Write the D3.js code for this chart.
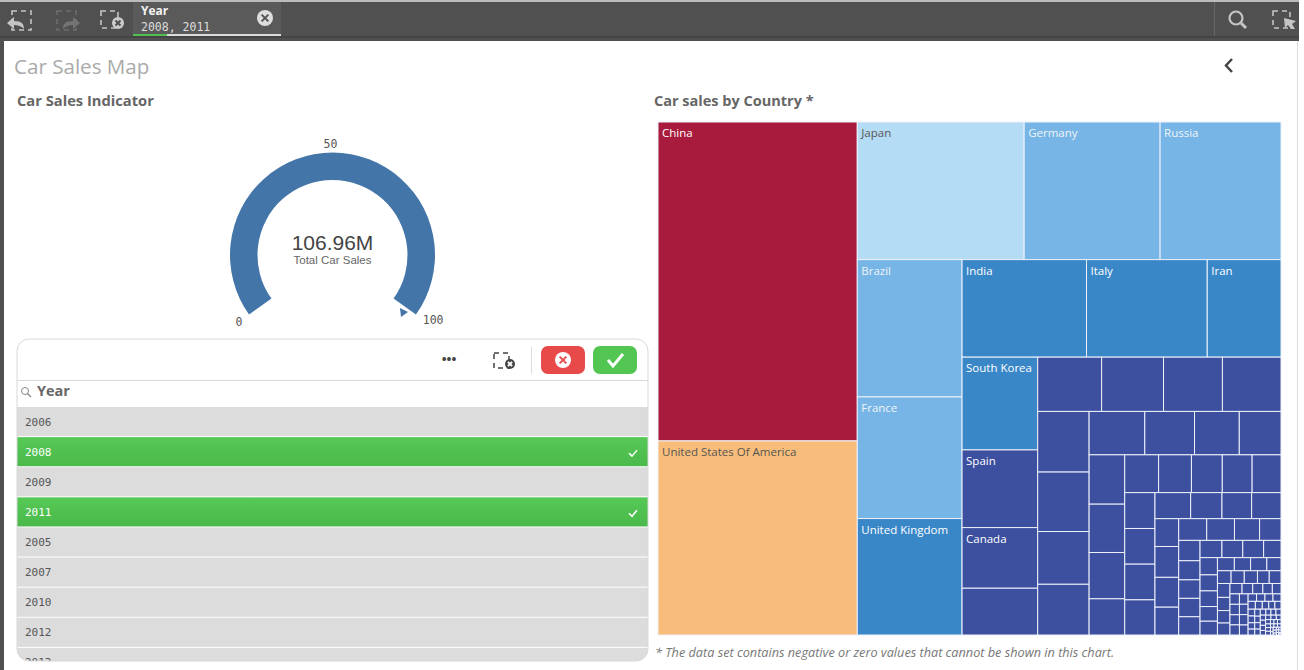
<!DOCTYPE html>
<html>
<head>
<meta charset="utf-8">
<script src="https://cdn.jsdelivr.net/npm/d3@7"></script>
<style>
  html, body { margin: 0; padding: 0; background: #fff; overflow: hidden; }
  text { font-family: "Open Sans", sans-serif; }
  .mono { font-family: "DejaVu Sans Mono", monospace; }
  .kpi { font-family: "Liberation Sans", sans-serif; }
</style>
</head>
<body>
<div id="chart"></div>
<script>
// gauge numbers
const gaugeValue = 106.96;
const gaugeLabel = "106.96M";
const gaugeTicks = [0, 50, 100];

// list box
const listYears = ["2006", "2008", "2009", "2011", "2005", "2007", "2010", "2012", "2013"];
const selectedYears = ["2008", "2011"];

// treemap, named countries first, the rest have no label in the picture
const countryNames = ["China", "United States Of America", "Japan", "Germany", "Russia", "Brazil", "France",
    "United Kingdom", "India", "Italy", "Iran", "South Korea", "Spain", "Canada"];
const countrySales = [21.2, 12.9, 7.66, 6.24, 5.55, 4.8, 4.25, 4.07, 4.05, 3.93, 2.4, 2.34, 1.96, 1.53,
    1.18, 1.157, 1.12, 1.066, 1.06, 1.04, 1.02, 0.905, 0.87, 0.806, 0.72, 0.648, 0.604,
    0.586, 0.574, 0.55, 0.43, 0.427, 0.414, 0.389, 0.376, 0.364, 0.362, 0.36, 0.36, 0.355,
    0.31, 0.272, 0.258, 0.255, 0.22, 0.244, 0.236, 0.22, 0.203, 0.201, 0.182, 0.155,
    0.145, 0.136, 0.132, 0.131, 0.13, 0.126, 0.12, 0.12, 0.1, 0.1, 0.093, 0.091, 0.085, 0.08,
    0.074, 0.071, 0.071, 0.062, 0.058, 0.056, 0.056, 0.05, 0.05, 0.058, 0.055, 0.052, 0.05,
    0.042, 0.037, 0.035, 0.033, 0.03, 0.033, 0.033, 0.032, 0.032, 0.03, 0.03, 0.03, 0.029,
    0.021, 0.021, 0.02, 0.02, 0.019, 0.018, 0.017, 0.016, 0.016, 0.015, 0.015, 0.014,
    0.013, 0.013, 0.012, 0.012, 0.011, 0.011, 0.01, 0.01, 0.01, 0.009, 0.009, 0.009, 0.008, 0.008, 0.008,
    0.007, 0.007, 0.006, 0.006, 0.006, 0.005, 0.005, 0.005, 0.004, 0.004, 0.004, 0.004,
    0.003, 0.003, 0.003, 0.002, 0.002, 0.002, 0.002, 0.002, 0.002, 0.001, 0.001];

const colorBreaks = [2.2, 4.15, 7, 10, 18];
const colorRange = ["#3c509f", "#3a87c8", "#76b5e6", "#b5dcf5", "#f8bd7a", "#a91b3d"];
const labelRange = ["#fff", "#fff", "#f0f4f8", "#555", "#555", "#fff"];

const width = 1304, height = 670;
const svg = d3.select("#chart").append("svg").attr("width", width).attr("height", height).style("display", "block");

// ---------- frame + toolbar ----------
const frameColor = "#505050";
svg.append("rect").attr("width", 1299).attr("height", 41).attr("fill", frameColor);
svg.append("rect").attr("width", 1299).attr("height", 2).attr("fill", "#bbb");
svg.append("rect").attr("y", 36).attr("width", 1299).attr("height", 2).attr("fill", "#444");
svg.append("rect").attr("y", 41).attr("width", 4).attr("height", height - 41).attr("fill", frameColor);
svg.append("rect").attr("x", 1297).attr("y", 41).attr("width", 1).attr("height", height - 41).attr("fill", "#ddd");

const tb = svg.append("g");

const dashedBox = (g, x, y, s, color) => g.append("rect").attr("x", x).attr("y", y).attr("width", s).attr("height", s)
    .attr("fill", "none").attr("stroke", color).attr("stroke-width", 1.6).attr("stroke-dasharray", "5 4");

// back / forward / clear
dashedBox(tb, 12, 11, 19, "#c4c4c4");
tb.append("path").attr("d", "M7 23 L14 17 L14 21 C22 21 24 24 24 29 C21 26 18 25 14 25 L14 29 Z").attr("fill", "#c4c4c4");
dashedBox(tb, 57, 11, 19, "#6e6e6e");
tb.append("path").attr("d", "M80 23 L73 17 L73 21 C65 21 63 24 63 29 C66 26 69 25 73 25 L73 29 Z").attr("fill", "#747474");
dashedBox(tb, 101, 11, 17, "#c4c4c4");
const clearMark = (g, x, y, r, bg, fg) => {
    g.append("circle").attr("cx", x).attr("cy", y).attr("r", r).attr("fill", bg);
    g.append("path").attr("d", `M${x - r * 0.42} ${y - r * 0.42} L${x + r * 0.42} ${y + r * 0.42} M${x + r * 0.42} ${y - r * 0.42} L${x - r * 0.42} ${y + r * 0.42}`)
        .attr("stroke", fg).attr("stroke-width", 2).attr("fill", "none");
};
clearMark(tb, 118, 23, 6, "#ccc", frameColor);

// selection tab
tb.append("rect").attr("x", 133).attr("y", 2).attr("width", 148).attr("height", 34).attr("fill", "#5a5a5a");
tb.append("text").attr("x", 141).attr("y", 15).attr("fill", "#f2f2f2").attr("font-size", 12).attr("font-weight", 700).text("Year");
tb.append("text").attr("class", "mono").attr("x", 141).attr("y", 31).attr("fill", "#ddd").attr("font-size", 11.5).text(selectedYears.join(", "));
tb.append("rect").attr("x", 133).attr("y", 34).attr("width", 148).attr("height", 2).attr("fill", "#ddd");
tb.append("rect").attr("x", 133).attr("y", 34).attr("width", 34).attr("height", 2).attr("fill", "#4fbf4f");
clearMark(tb, 265, 18, 8, "#ddd", "#555");

// search + lasso
tb.append("rect").attr("x", 1214).attr("y", 2).attr("width", 1).attr("height", 34).attr("fill", "#666");
tb.append("circle").attr("cx", 1236).attr("cy", 18).attr("r", 6.5).attr("fill", "none").attr("stroke", "#c4c4c4").attr("stroke-width", 2.2);
tb.append("path").attr("d", "M1241 23 L1246 28").attr("stroke", "#c4c4c4").attr("stroke-width", 3);
dashedBox(tb, 1273, 11, 17, "#c4c4c4");
tb.append("path").attr("d", "M1284 18 L1296 21 L1292 24 L1295 29 L1291 29 L1288 25 L1285 28 Z").attr("fill", "#c4c4c4");

// ---------- titles ----------
svg.append("text").attr("x", 14).attr("y", 74).attr("fill", "#aaa").attr("font-size", 20.6).text("Car Sales Map");
svg.append("text").attr("x", 17).attr("y", 106).attr("fill", "#666").attr("font-size", 14.7).attr("font-weight", 700).text("Car Sales Indicator");
svg.append("text").attr("x", 654).attr("y", 106).attr("fill", "#666").attr("font-size", 14.5).attr("font-weight", 700).text("Car sales by Country *");
svg.append("path").attr("d", "M1232 59 L1226 65.5 L1232 72").attr("fill", "none").attr("stroke", "#444").attr("stroke-width", 2.5);
svg.append("text").attr("x", 655).attr("y", 657).attr("fill", "#777").attr("font-size", 12.7).attr("font-style", "italic")
    .text("* The data set contains negative or zero values that cannot be shown in this chart.");

// ---------- gauge ----------
const gaugeG = svg.append("g").attr("transform", "translate(332.5,255)");
const angle = d3.scaleLinear().domain([0, 100]).range([-125.5, 125.5].map(d => d * Math.PI / 180)).clamp(true);
const arc = d3.arc().innerRadius(75).outerRadius(102.5);
gaugeG.append("path").attr("fill", "#4375a9")
    .attr("d", arc({ startAngle: angle(0), endAngle: angle(gaugeValue) }));

// tick labels sit just outside the ring
gaugeG.selectAll("text.tick").data(gaugeTicks).join("text").attr("class", "tick mono")
    .attr("x", d => Math.sin(angle(d)) * 115 + (d === 100 ? 7 : d === 0 ? 0 : -2))
    .attr("y", d => -Math.cos(angle(d)) * 115 + (d === 50 ? 8 : d === 0 ? 4 : 2))
    .attr("text-anchor", "middle").attr("fill", "#555").attr("font-size", 11.5).text(d => d);

// little out-of-range marker next to the end of the arc
const tip = angle(100);
const tipR = 92;
gaugeG.append("path").attr("fill", "#4375a9").attr("d", "M-3 -4 L5 0 L-2 5 Z")
    .attr("transform", `translate(${Math.sin(tip) * tipR - 4.4},${-Math.cos(tip) * tipR + 3.6})`);

gaugeG.append("text").attr("class", "kpi").attr("y", -5.5).attr("text-anchor", "middle").attr("fill", "#444").attr("font-size", 21).text(gaugeLabel);
gaugeG.append("text").attr("class", "kpi").attr("y", 9).attr("text-anchor", "middle").attr("fill", "#666").attr("font-size", 11.5).text("Total Car Sales");

// ---------- list box ----------
const defs = svg.append("defs");
defs.append("clipPath").attr("id", "listClip").append("rect")
    .attr("x", 17).attr("y", 339).attr("width", 631).attr("height", 322).attr("rx", 12);
const grad = defs.append("linearGradient").attr("id", "sel").attr("x1", 0).attr("x2", 0).attr("y1", 0).attr("y2", 1);
grad.append("stop").attr("offset", "0%").attr("stop-color", "#56c956");
grad.append("stop").attr("offset", "100%").attr("stop-color", "#4ab94a");

const listG = svg.append("g").attr("clip-path", "url(#listClip)");
const rowScale = d3.scaleBand().domain(listYears).range([407, 407 + 30 * listYears.length]).paddingInner(1 / 30);
listG.selectAll("rect.row").data(listYears).join("rect").attr("class", "row")
    .attr("x", 17).attr("y", d => rowScale(d)).attr("width", 631).attr("height", rowScale.bandwidth())
    .attr("fill", d => selectedYears.includes(d) ? "url(#sel)" : "#dcdcdc");
listG.selectAll("text.row").data(listYears).join("text").attr("class", "row mono")
    .attr("x", 25).attr("y", d => rowScale(d) + rowScale.bandwidth() / 2 + 4).attr("font-size", 11)
    .attr("fill", d => selectedYears.includes(d) ? "#fff" : "#555").text(d => d);
listG.selectAll("path.tick").data(selectedYears).join("path").attr("class", "tick")
    .attr("d", d => { const y = rowScale(d) + 16; return `M629 ${y} L632 ${y + 3} L637 ${y - 3}`; })
    .attr("fill", "none").attr("stroke", "#fff").attr("stroke-width", 1.5);

svg.append("rect").attr("x", 17).attr("y", 339).attr("width", 631).attr("height", 322).attr("rx", 12)
    .attr("fill", "none").attr("stroke", "#d8d8d8");
svg.append("rect").attr("x", 17).attr("y", 380).attr("width", 631).attr("height", 1).attr("fill", "#d8d8d8");

svg.append("text").attr("x", 449).attr("y", 364).attr("text-anchor", "middle").attr("font-size", 13).attr("font-weight", 700).attr("fill", "#444").text("•••");
dashedBox(svg, 494, 353, 15, "#444").attr("stroke-width", 1.5);
clearMark(svg, 510, 364, 5, "#444", "#fff");
svg.append("rect").attr("x", 531).attr("y", 347).attr("width", 1).attr("height", 27).attr("fill", "#ddd");
svg.append("rect").attr("x", 541).attr("y", 346).attr("width", 44).attr("height", 28).attr("rx", 7).attr("fill", "#e84a4a");
clearMark(svg, 563, 360, 8, "#fff", "#e84a4a");
svg.append("rect").attr("x", 593).attr("y", 346).attr("width", 44).attr("height", 28).attr("rx", 7).attr("fill", "#52c552");
svg.append("path").attr("d", "M608 360 L613 366 L623 354").attr("fill", "none").attr("stroke", "#fff").attr("stroke-width", 3);

svg.append("circle").attr("cx", 25).attr("cy", 391).attr("r", 3.5).attr("fill", "none").attr("stroke", "#888");
svg.append("path").attr("d", "M27.5 393.5 L31 397").attr("stroke", "#888").attr("stroke-width", 1.2);
svg.append("text").attr("x", 37).attr("y", 396).attr("fill", "#666").attr("font-size", 14.5).attr("font-weight", 700).text("Year");

// ---------- treemap ----------
const tree = countrySales.map((v, i) => ({ name: countryNames[i] || "", value: v }));
const root = d3.hierarchy({ children: tree }).sum(d => d.value || 0);
d3.treemap().tile(d3.treemapSquarify.ratio(1)).size([623, 513])(root);

const colorScale = d3.scaleThreshold().domain(colorBreaks).range(colorRange);
const labelScale = d3.scaleThreshold().domain(colorBreaks).range(labelRange);

const mapG = svg.append("g").attr("transform", "translate(658,122)");
mapG.selectAll("rect").data(root.leaves()).join("rect")
    .attr("x", d => d.x0).attr("y", d => d.y0)
    .attr("width", d => d.x1 - d.x0).attr("height", d => d.y1 - d.y0)
    .attr("fill", d => colorScale(d.value))
    .attr("stroke", "#eef1fb").attr("stroke-width", 1);
mapG.selectAll("text").data(root.leaves().filter(d => d.data.name)).join("text")
    .attr("x", d => d.x0 + 4).attr("y", d => d.y0 + 15)
    .attr("font-size", 11.5).attr("fill", d => labelScale(d.value)).text(d => d.data.name);
</script>
</body>
</html>
